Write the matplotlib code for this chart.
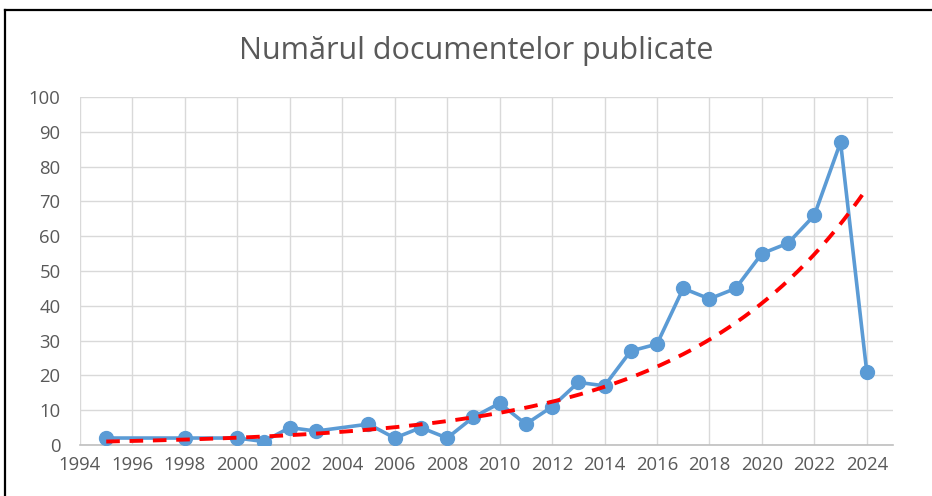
import numpy as np
import matplotlib
matplotlib.use("Agg")
import matplotlib.pyplot as plt
from matplotlib.lines import Line2D

years = [1995, 1998, 2000, 2001, 2002, 2003, 2005, 2006, 2007, 2008, 2009, 2010,
         2011, 2012, 2013, 2014, 2015, 2016, 2017, 2018, 2019, 2020, 2021, 2022,
         2023, 2024]
docs = [2, 2, 2, 1, 5, 4, 6, 2, 5, 2, 8, 12, 6, 11, 18, 17, 27, 29, 45, 42, 45,
        55, 58, 66, 87, 21]
x_ticks = list(range(1994, 2025, 2))
y_ticks = list(range(0, 101, 10))
title = "Numărul documentelor publicate"

plt.rcParams['font.family'] = ['Open Sans', 'DejaVu Sans']

fig = plt.figure(figsize=(9.32, 4.96), dpi=100)
ax = fig.add_axes([80/932, 1-445/496, (893-80)/932, (445-97)/496])

# exponential trendline (least squares on log values, as Excel does)
xa = np.array(years, dtype=float)
ya = np.array(docs, dtype=float)
b, a = np.polyfit(xa, np.log(ya), 1)
xt = np.linspace(xa.min(), xa.max(), 200)
yt = np.exp(a + b * xt)

ax.plot(years, docs, color='#5B9BD5', lw=2.6, marker='o', ms=10,
        markeredgecolor='#5B9BD5', zorder=3)
ax.plot(xt, yt, color='#FF0000', lw=2.8, ls=(0, (3.5, 2.5)), zorder=4)

ax.set_xlim(1994, 2025)
ax.set_ylim(0, 100)
ax.set_xticks(x_ticks)
ax.set_yticks(y_ticks)
ax.grid(True, color='#D9D9D9', lw=1)
ax.set_axisbelow(True)
for s in ['top', 'right', 'left']:
    ax.spines[s].set_visible(False)
ax.spines['bottom'].set_color('#BFBFBF')
ax.spines['bottom'].set_linewidth(1.2)
ax.tick_params(axis='both', length=0, labelsize=13.3, labelcolor='#595959')
ax.tick_params(axis='y', pad=14)
ax.tick_params(axis='x', pad=8)

fig.text(0.511, 1-51/496, title, ha='center', va='center', fontsize=22,
         color='#595959')

# outer border (cropped on right and bottom)
fig.add_artist(Line2D([5/932, 5/932], [0, 1-10/496], transform=fig.transFigure,
                      color='black', lw=1.6))
fig.add_artist(Line2D([5/932, 1], [1-10/496, 1-10/496], transform=fig.transFigure,
                      color='black', lw=1.6))

fig.savefig('out.png', dpi=100)
